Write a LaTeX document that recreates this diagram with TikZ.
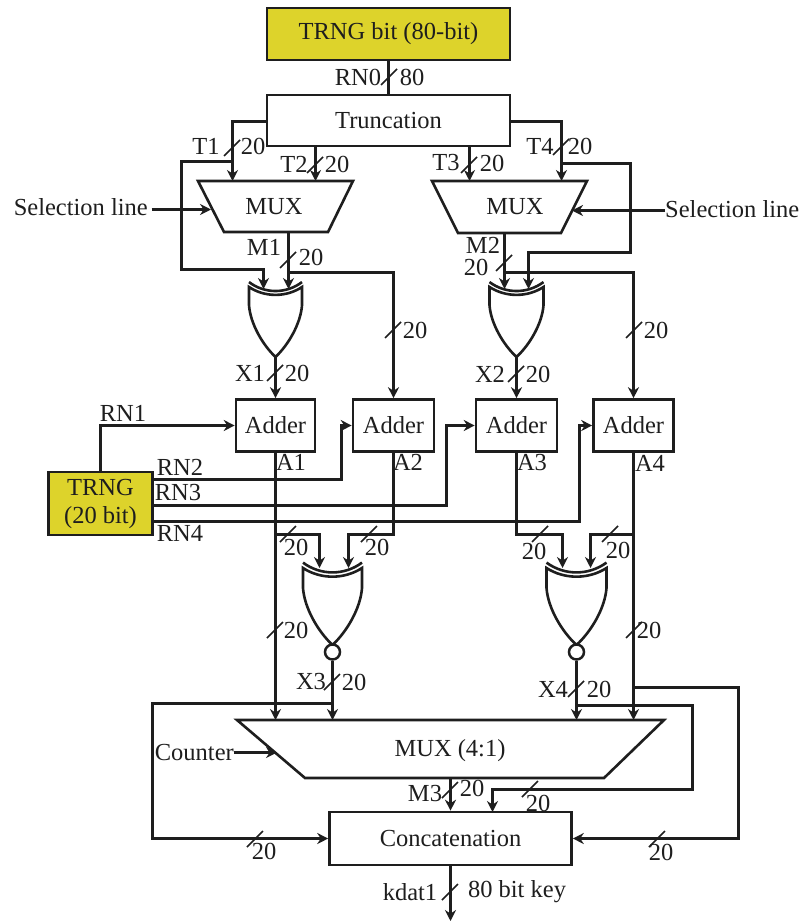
\documentclass[tikz,border=0pt]{standalone}
\usepackage{fontspec}
\setmainfont{Liberation Serif}
\usetikzlibrary{arrows.meta}
\definecolor{ink}{HTML}{1E1E1E}
\definecolor{trngfill}{HTML}{DDD32B}
\newcommand{\busslash}[2]{\draw[buscut] (#1-8,#2+8) -- (#1+8,#2-8);}
\newcommand{\lbl}[4][lab]{\node[#1] (#2) at #3 {#4};}
% name, centre x, top y, half width, tip y
\newcommand{\gateshape}[5]{%
  \pgfmathsetmacro{\gateh}{#5-#3}
  \begin{scope}[shift={(#2pt,-#3pt)},x=#4pt,y=-\gateh pt]
    \draw[wire,line join=miter] (-1,0) -- (-1,.26) .. controls (-.95,.52) and (-.5,.82) .. (0,1)
      .. controls (.5,.82) and (.95,.52) .. (1,.26) -- (1,0)
      .. controls (.4,.15) and (-.4,.15) .. (-1,0) -- cycle;
    \draw[wire] (-1,-.07) .. controls (-.4,.1) and (.4,.1) .. (1,-.07);
    \coordinate (#1tip) at (0,1);
  \end{scope}}
\tikzset{
  wire/.style={draw=ink,line width=2.6pt},
  arw/.style={wire,-{Stealth[length=11pt,width=11pt]}},
  conn/.style={wire},
  buscut/.style={draw=ink,line width=1.6pt},
  block/.style={draw=ink,line width=2.6pt,fill=white,inner sep=0pt,text=ink,font=\fontsize{24.5}{26}\selectfont,align=center},
  src/.style={block,fill=trngfill},
  lab/.style={inner sep=0pt,text=ink,font=\fontsize{24.5}{26}\selectfont},
  mux/.style={draw=ink,line width=2.6pt,fill=white,line join=miter},
}
\begin{document}
\begin{tikzpicture}[x=1pt,y=-1pt]
\useasboundingbox (0,0) rectangle (803,923);
% blocks
\node[src,minimum width=243pt,minimum height=52pt] (trng80) at (388.5,34) {TRNG bit (80-bit)};
\node[block,minimum width=243pt,minimum height=51pt] (trunc) at (388.5,120.5) {Truncation};
\node[src,minimum width=104pt,minimum height=63pt,font=\fontsize{24.5}{28}\selectfont] (trng20) at (100.5,503.5) {TRNG\\(20 bit)};
\node[block,minimum width=79pt,minimum height=52pt] (add1) at (275.5,425.5) {Adder};
\node[block,minimum width=81pt,minimum height=52pt] (add2) at (393.5,425.5) {Adder};
\node[block,minimum width=81pt,minimum height=52pt] (add3) at (516.5,425.5) {Adder};
\node[block,minimum width=80pt,minimum height=52pt] (add4) at (633.5,425.5) {Adder};
\node[block,minimum width=242pt,minimum height=53pt] (conc) at (450.5,838.5) {Concatenation};
% muxes
\draw[mux] (198,181) -- (353,181) -- (328,232) -- (224,232) -- cycle;
\node[lab] (mux1) at (274,207) {MUX};
\draw[mux] (432,181) -- (587,181) -- (561,233) -- (458,233) -- cycle;
\node[lab] (mux2) at (515,207) {MUX};
\draw[mux] (237,720) -- (664,720) -- (604,778) -- (305,778) -- cycle;
\node[lab] (mux3) at (450,751) {MUX (4:1)};
% gates
\gateshape{gA}{275.5}{287}{26.5}{357}
\gateshape{gB}{516.5}{287}{27}{357}
\gateshape{gC}{332.5}{568}{29.5}{645}
\gateshape{gD}{576.5}{568}{30}{645}
\node[draw=ink,line width=2.5pt,fill=white,circle,minimum size=15pt,inner sep=0pt] (invC) at (332.5,652) {};
\node[draw=ink,line width=2.5pt,fill=white,circle,minimum size=15pt,inner sep=0pt] (invD) at (576.5,652) {};
% junction coordinates
\coordinate (t1out) at (267,121.5);
\coordinate (t1in) at (232.5,181);
\coordinate (t1by) at (232.5,161.5);
\coordinate (xa1) at (263.5,289);
\coordinate (t2out) at (315.5,146);
\coordinate (t2in) at (315.5,181);
\coordinate (m1out) at (288.5,232);
\coordinate (xa2) at (288.5,289);
\coordinate (m1br) at (288.5,272.5);
\coordinate (t3out) at (469.5,146);
\coordinate (t3in) at (469.5,181);
\coordinate (t4out) at (510,121.5);
\coordinate (t4in) at (561.5,181);
\coordinate (t4by) at (561.5,163.5);
\coordinate (xb2) at (528.5,289);
\coordinate (m2out) at (504.5,233);
\coordinate (xb1) at (504.5,289);
\coordinate (m2br) at (504.5,272.5);
\coordinate (a1br) at (275.5,534.5);
\coordinate (a1in) at (275.5,720);
\coordinate (a2br) at (393.5,534.5);
\coordinate (a3br) at (516.5,534.5);
\coordinate (a4br) at (633.5,534.5);
\coordinate (a4in) at (633.5,720);
\coordinate (xc1) at (319.5,568);
\coordinate (xc2) at (348.5,568);
\coordinate (xd1) at (562.5,568);
\coordinate (xd2) at (590.5,568);
\coordinate (x3in) at (332.5,720);
\coordinate (x3by) at (332.5,703.5);
\coordinate (x4in) at (576.5,720);
\coordinate (x4by) at (576.5,705.5);
\coordinate (a4by) at (633.5,687.5);
\coordinate (out) at (450.5,921);
\coordinate (selLout) at (151.5,209.5);
\coordinate (selLin) at (211,209.5);
\coordinate (selRout) at (665,210.5);
\coordinate (selRin) at (572,210.5);
\coordinate (cntout) at (234,752.5);
\coordinate (cntin) at (277,752.5);
\coordinate (m3top) at (450.5,778);
\coordinate (r2) at (153,479.5);
\coordinate (r3) at (153,505.5);
\coordinate (r4) at (153,521.5);
% connectors
\draw[conn] (trng80.south) -- (trunc.north);
\draw[arw] (t1out) -| (t1in);
\draw[arw] (t2out) -- (t2in);
\draw[arw] (t3out) -- (t3in);
\draw[arw] (t4out) -| (t4in);
\draw[arw] (t1by) -- (181.5,161.5) -- (181.5,269.5) -| (xa1);
\draw[arw] (m1out) -- (xa2);
\draw[arw] (m1br) -| (add2.north);
\draw[arw] (t4by) -- (630.5,163.5) -- (630.5,252.5) -| (xb2);
\draw[arw] (m2out) -- (xb1);
\draw[arw] (m2br) -| (add4.north);
\draw[arw] (gAtip) -- (add1.north);
\draw[arw] (gBtip) -- (add3.north);
\draw[arw] (trng20.north) |- (add1.west);
\draw[arw] (r2) -- (341.5,479.5) |- (add2.west);
\draw[arw] (r3) -- (446.5,505.5) |- (add3.west);
\draw[arw] (r4) -- (579.5,521.5) |- (add4.west);
\draw[arw] (add1.south) -- (a1in);
\draw[arw] (a1br) -| (xc1);
\draw[arw] (add2.south) -- (a2br) -| (xc2);
\draw[arw] (add3.south) -- (a3br) -| (xd1);
\draw[arw] (add4.south) -- (a4in);
\draw[arw] (a4br) -| (xd2);
\draw[arw] (invC.south) -- (x3in);
\draw[arw] (invD.south) -- (x4in);
\draw[arw] (x3by) -- (152.5,703.5) |- (conc.west);
\draw[arw] (x4by) -- (692.5,705.5) -- (692.5,789.5) -- (492.5,789.5) -- (492.5,812);
\draw[arw] (a4by) -- (738.5,687.5) |- (conc.east);
\draw[arw] (m3top) -- (conc.north);
\draw[arw] (conc.south) -- (out);
% side inputs
\node[lab,anchor=east] (selL) at (148,207) {Selection line};
\node[lab,anchor=west] (selR) at (665,209) {Selection line};
\node[lab,anchor=east] (cnt) at (234,752) {Counter};
\draw[arw] (selLout) -- (selLin);
\draw[arw] (selRout) -- (selRin);
\draw[arw] (cntout) -- (cntin);
% bus cuts
\busslash{389}{77}
\busslash{232}{148}\busslash{315}{165}\busslash{469}{165}\busslash{561}{147}
\busslash{288}{260}\busslash{393}{330}\busslash{504}{263}\busslash{634}{330}
\busslash{275}{373}\busslash{516}{374}
\busslash{288}{534}\busslash{369}{534}\busslash{540}{534}\busslash{610}{534}
\busslash{275}{630}\busslash{634}{630}
\busslash{332}{682}\busslash{576}{689}
\busslash{450}{790}\busslash{530}{789}
\busslash{255}{839}\busslash{657}{839}
\busslash{450}{892}
% labels
\lbl{lRN0}{(358,77)}{RN0}\lbl{l80}{(412,77)}{80}
\lbl{lT1}{(206,146)}{T1}\lbl{lT1b}{(253,146)}{20}
\lbl{lT2}{(294,164)}{T2}\lbl{lT2b}{(337,164)}{20}
\lbl{lT3}{(446,163)}{T3}\lbl{lT3b}{(492,163)}{20}
\lbl{lT4}{(540,146)}{T4}\lbl{lT4b}{(580,146)}{20}
\lbl{lM1}{(264,247)}{M1}\lbl{lM1b}{(311,257)}{20}
\lbl{lM2}{(483,245)}{M2}\lbl{lM2b}{(476,267)}{20}
\lbl{lb1}{(415,330)}{20}\lbl{lb2}{(656,330)}{20}
\lbl{lX1}{(250,373)}{X1}\lbl{lX1b}{(297,373)}{20}
\lbl{lX2}{(490,374)}{X2}\lbl{lX2b}{(538,374)}{20}
\lbl{lRN1}{(123,413)}{RN1}\lbl{lRN2}{(180,467)}{RN2}
\lbl{lRN3}{(178,493)}{RN3}\lbl{lRN4}{(180,533)}{RN4}
\lbl{lA1}{(291,462)}{A1}\lbl{lA2}{(408,462)}{A2}
\lbl{lA3}{(532,463)}{A3}\lbl{lA4}{(650,463)}{A4}
\lbl{lc1}{(296,547)}{20}\lbl{lc2}{(377,547)}{20}
\lbl{lc3}{(534,551)}{20}\lbl{lc4}{(618,550)}{20}
\lbl{lc5}{(296,630)}{20}\lbl{lc6}{(649,630)}{20}
\lbl{lX3}{(311,682)}{X3}\lbl{lX3b}{(354,682)}{20}
\lbl{lX4}{(553,689)}{X4}\lbl{lX4b}{(599,689)}{20}
\lbl{lM3}{(425,793)}{M3}\lbl{lM3b}{(472,788)}{20}
\lbl{ld1}{(538,803)}{20}\lbl{ld2}{(264,851)}{20}\lbl{ld3}{(661,852)}{20}
\lbl{lk}{(410,892)}{kdat1}\lbl{lkb}{(517,892)}{80 bit key}
\end{tikzpicture}
\end{document}
